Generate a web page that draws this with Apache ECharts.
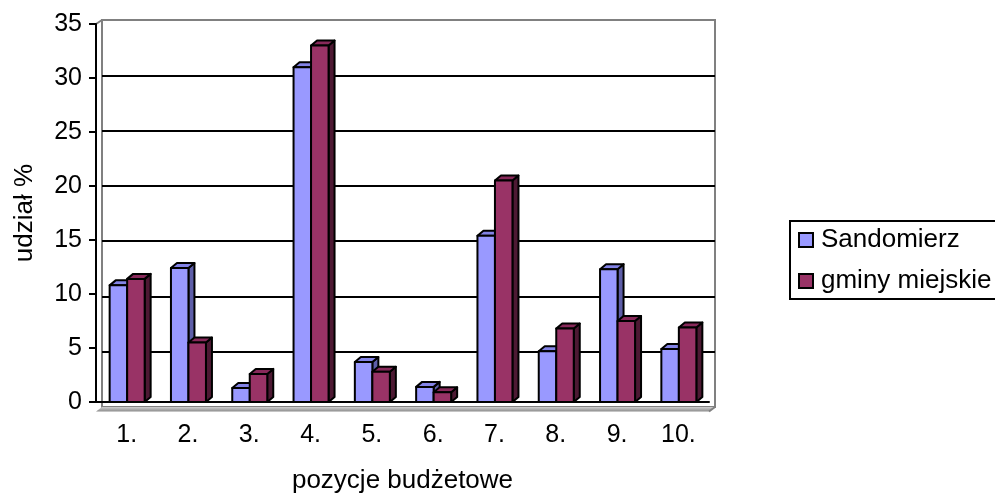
<!DOCTYPE html>
<html>
<head>
<meta charset="utf-8">
<script src="https://cdn.jsdelivr.net/npm/echarts@6/dist/echarts.min.js"></script>
<style>
html,body{margin:0;padding:0;background:#fff;}
#chart{width:995px;height:499px;}
</style>
</head>
<body>
<div id="chart"></div>
<script>
// ---- data ----
const categories = ['1.', '2.', '3.', '4.', '5.', '6.', '7.', '8.', '9.', '10.'];
const seriesNames = ['Sandomierz', 'gminy miejskie'];
const sandomierz = [10.8, 12.4, 1.3, 31.0, 3.7, 1.4, 15.4, 4.7, 12.3, 4.9];
const gminyMiejskie = [11.4, 5.5, 2.6, 33.0, 2.8, 0.9, 20.5, 6.8, 7.5, 6.9];
const yTicks = [0, 5, 10, 15, 20, 25, 30, 35];

// ---- styles ----
const FONT = "'Liberation Sans', Arial, sans-serif";
const faces = [
  { front: '#9999FF', top: '#8383E6', side: '#5E5EA8' },
  { front: '#993366', top: '#88295A', side: '#4D1933' }
];
const BAR_W = 17.5, DX = 6, DY = 5;

function makeRender(sIdx) {
  return function (params, api) {
    const i = api.value(0), v = api.value(1);
    const base = api.coord([i, 0]);
    const topPt = api.coord([i, v]);
    const c = base[0];
    const x0 = c - 17 + sIdx * BAR_W, x1 = x0 + BAR_W;
    const yb = base[1], yt = topPt[1];
    const f = faces[sIdx];
    const st = (fill) => ({ fill: fill, stroke: '#000', lineWidth: 2, lineJoin: 'round' });
    return {
      type: 'group',
      children: [
        { type: 'polygon', shape: { points: [[x1, yt], [x1 + DX, yt - DY], [x1 + DX, yb - DY], [x1, yb]] }, style: st(f.side) },
        { type: 'polygon', shape: { points: [[x0, yt], [x0 + DX, yt - DY], [x1 + DX, yt - DY], [x1, yt]] }, style: st(f.top) },
        { type: 'rect', shape: { x: x0, y: yt, width: BAR_W, height: yb - yt }, style: st(f.front) }
      ]
    };
  };
}

const chart = echarts.init(document.getElementById('chart'), null, { renderer: 'canvas' });

const gridFront = { left: 96, top: 24, width: 613, height: 387.5 };
const gridBack = { left: 102, top: 20, width: 613, height: 387 };

const splitColors = yTicks.map((t, k) => (k === 0 || k === yTicks.length - 1) ? '#808080' : '#000');

const option = {
  backgroundColor: '#fff',
  animation: false,
  textStyle: { fontFamily: FONT },
  grid: [
    Object.assign({ containLabel: false }, gridFront),
    Object.assign({ containLabel: false, show: true, borderColor: '#808080', borderWidth: 2, backgroundColor: 'transparent', z: 0 }, gridBack)
  ],
  legend: {
    orient: 'vertical',
    left: 798,
    top: 226,
    padding: 0,
    itemWidth: 14,
    itemHeight: 14,
    itemGap: 13,
    icon: 'rect',
    borderWidth: 0,
    itemStyle: { borderColor: '#000', borderWidth: 2 },
    textStyle: { fontSize: 26, color: '#000', fontFamily: FONT, lineHeight: 28, padding: [0, 0, 0, 3] },
    data: seriesNames
  },
  xAxis: [
    {
      type: 'category', gridIndex: 0, data: categories,
      axisLine: { lineStyle: { color: '#000', width: 2 } },
      axisTick: { length: 7, lineStyle: { color: '#000', width: 2 } },
      axisLabel: { fontSize: 25, color: '#000', margin: 21, fontFamily: FONT },
      splitLine: { show: false },
      name: 'pozycje budżetowe', nameLocation: 'middle', nameGap: 66,
      nameTextStyle: { fontSize: 26, color: '#000', fontFamily: FONT },
      z: 5
    },
    {
      type: 'category', gridIndex: 1, data: categories, show: false
    }
  ],
  yAxis: [
    {
      type: 'value', gridIndex: 0, min: 0, max: 35, interval: 5,
      axisLine: { show: true, lineStyle: { color: '#000', width: 2 } },
      axisTick: { show: true, length: 7, lineStyle: { color: '#000', width: 2 } },
      axisLabel: { fontSize: 25, color: '#000', margin: 14, fontFamily: FONT },
      splitLine: { show: false },
      name: 'udział %', nameLocation: 'middle', nameGap: 58,
      nameTextStyle: { fontSize: 26, color: '#000', fontFamily: FONT },
      z: 5
    },
    {
      type: 'value', gridIndex: 1, min: 0, max: 35, interval: 5,
      axisLine: { show: false }, axisTick: { show: false }, axisLabel: { show: false },
      splitLine: { show: true, lineStyle: { color: splitColors, width: 2 } }
    }
  ],
  graphic: [
    {
      type: 'polygon', z: 1, silent: true,
      shape: { points: [[96, 411.5], [102, 407], [715, 407], [709, 411.5]] },
      style: {
        fill: { type: 'linear', x: 0, y: 0, x2: 0, y2: 1, colorStops: [{ offset: 0, color: '#d0d0d0' }, { offset: 1, color: '#8c8c8c' }] }
      }
    },
    { type: 'line', z: 1, silent: true, shape: { x1: 96, y1: 24, x2: 102, y2: 20 }, style: { stroke: '#808080', lineWidth: 2 } },
    { type: 'line', z: 1, silent: true, shape: { x1: 709, y1: 411.5, x2: 715, y2: 407 }, style: { stroke: '#808080', lineWidth: 2 } },
    { type: 'rect', z: 1, silent: true, shape: { x: 790, y: 221, width: 260, height: 78 }, style: { fill: 'transparent', stroke: '#000', lineWidth: 2 } }
  ],
  series: [
    {
      name: seriesNames[0], type: 'custom', xAxisIndex: 0, yAxisIndex: 0, z: 3,
      itemStyle: { color: faces[0].front },
      renderItem: makeRender(0),
      data: sandomierz.map((v, i) => [i, v])
    },
    {
      name: seriesNames[1], type: 'custom', xAxisIndex: 0, yAxisIndex: 0, z: 4,
      itemStyle: { color: faces[1].front },
      renderItem: makeRender(1),
      data: gminyMiejskie.map((v, i) => [i, v])
    }
  ]
};
chart.setOption(option);
</script>
</body>
</html>
